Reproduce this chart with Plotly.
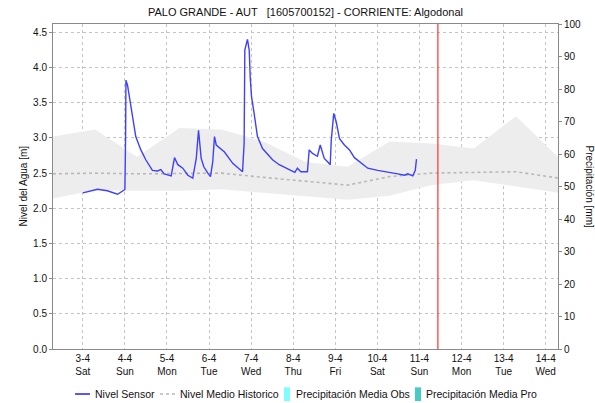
import plotly.graph_objects as go

FONT = "Liberation Sans, Arial, sans-serif"

# ---- data ----
sensor_time = [
    "2021-04-03 00:00", "2021-04-03 08:24", "2021-04-03 14:00", "2021-04-03 19:48", "2021-04-03 23:36",
    "2021-04-04 00:00", "2021-04-04 00:24", "2021-04-04 00:36", "2021-04-04 01:30", "2021-04-04 03:24",
    "2021-04-04 06:12", "2021-04-04 09:06", "2021-04-04 11:54", "2021-04-04 15:42", "2021-04-04 18:36",
    "2021-04-04 20:30", "2021-04-04 22:24", "2021-04-05 02:24", "2021-04-05 04:18", "2021-04-05 06:12",
    "2021-04-05 09:00", "2021-04-05 11:54", "2021-04-05 14:42", "2021-04-05 16:42", "2021-04-05 18:00",
    "2021-04-05 19:30", "2021-04-05 21:00", "2021-04-05 23:18", "2021-04-06 00:48", "2021-04-06 02:06",
    "2021-04-06 03:06", "2021-04-06 04:06", "2021-04-06 08:48", "2021-04-06 13:30", "2021-04-06 19:06",
    "2021-04-06 20:00", "2021-04-06 20:24", "2021-04-06 21:54", "2021-04-06 22:54", "2021-04-06 23:30",
    "2021-04-07 00:12", "2021-04-07 01:42", "2021-04-07 03:36", "2021-04-07 06:30", "2021-04-07 09:18",
    "2021-04-07 12:12", "2021-04-07 16:00", "2021-04-07 19:48", "2021-04-07 23:36", "2021-04-08 00:54",
    "2021-04-08 02:24", "2021-04-08 04:18", "2021-04-08 08:06", "2021-04-08 09:06", "2021-04-08 11:00",
    "2021-04-08 13:48", "2021-04-08 15:24", "2021-04-08 17:42", "2021-04-08 20:00", "2021-04-08 21:06",
    "2021-04-08 21:42", "2021-04-08 23:06", "2021-04-09 00:30", "2021-04-09 02:24", "2021-04-09 05:12",
    "2021-04-09 08:06", "2021-04-09 10:54", "2021-04-09 14:48", "2021-04-09 18:30", "2021-04-10 00:12",
    "2021-04-10 06:00", "2021-04-10 11:36", "2021-04-10 15:30", "2021-04-10 17:18", "2021-04-10 20:12",
    "2021-04-10 21:36", "2021-04-10 22:18",
]
sensor_level = [
    2.22, 2.27, 2.25, 2.20, 2.26,
    2.27, 3.00, 3.82, 3.75, 3.44,
    3.02, 2.83, 2.69, 2.54, 2.53,
    2.55, 2.49, 2.46, 2.72, 2.62,
    2.57, 2.47, 2.43, 2.71, 3.11,
    2.71, 2.59, 2.50, 2.45, 2.66,
    3.02, 2.90, 2.80, 2.64, 2.52,
    2.92, 4.25, 4.40, 4.25, 3.85,
    3.59, 3.35, 3.02, 2.85, 2.77,
    2.69, 2.62, 2.57, 2.53, 2.51,
    2.57, 2.52, 2.52, 2.83, 2.78,
    2.74, 2.90, 2.71, 2.65, 2.62,
    2.97, 3.35, 3.23, 2.99, 2.90,
    2.83, 2.72, 2.64, 2.57, 2.54,
    2.52, 2.49, 2.47, 2.49, 2.46,
    2.54, 2.70,
]

hist_time = [
    "2021-04-02 07:00", "2021-04-03 07:00", "2021-04-04 07:00", "2021-04-05 07:00",
    "2021-04-06 07:00", "2021-04-07 07:00", "2021-04-08 07:00", "2021-04-09 07:00",
    "2021-04-10 07:00", "2021-04-11 07:00", "2021-04-12 07:00", "2021-04-13 07:00",
    "2021-04-14 07:00",
]
hist_upper = [3.02, 3.12, 2.73, 3.14, 3.12, 2.95, 2.66, 2.59, 2.95, 2.92, 2.85, 3.31, 2.73]
hist_lower = [2.14, 2.26, 2.25, 2.25, 2.27, 2.22, 2.17, 2.12, 2.18, 2.33, 2.40, 2.31, 2.22]
hist_median = [2.49, 2.50, 2.49, 2.50, 2.50, 2.44, 2.38, 2.33, 2.45, 2.50, 2.51, 2.52, 2.43]

precip_obs_time = []
precip_obs = []
precip_pro_time = []
precip_pro = []

now_time = "2021-04-11 10:30"

tick_dates = ["2021-04-03", "2021-04-04", "2021-04-05", "2021-04-06", "2021-04-07", "2021-04-08",
              "2021-04-09", "2021-04-10", "2021-04-11", "2021-04-12", "2021-04-13", "2021-04-14"]
tick_day = ["3-4", "4-4", "5-4", "6-4", "7-4", "8-4", "9-4", "10-4", "11-4", "12-4", "13-4", "14-4"]
tick_wd = ["Sat", "Sun", "Mon", "Tue", "Wed", "Thu", "Fri", "Sat", "Sun", "Mon", "Tue", "Wed"]

x_range = ["2021-04-02 07:00", "2021-04-14 07:00"]

title_text = "PALO GRANDE - AUT   [1605700152] - CORRIENTE: Algodonal"
y_title = "Nivel del Agua [m]"
y2_title = "Precipitación [mm]"
legend_names = ["Nivel Sensor", "Nivel Medio Historico", "Precipitación Media Obs", "Precipitación Media Pro"]

# ---- styles ----
c_sensor = "#3f3fff"
c_median = "#b8b8b8"
c_band = "#ededed"
c_obs = "#80fcff"
c_pro = "#48cbc4"
c_grid = "#c4c4c4"
c_axis = "#8a8a8a"

W, H = 595, 403

fig = go.Figure()
fig.add_trace(go.Scatter(x=hist_time, y=hist_lower, mode="lines", line=dict(width=0, color=c_band),
                         showlegend=False, hoverinfo="skip"))
fig.add_trace(go.Scatter(x=hist_time, y=hist_upper, mode="lines", line=dict(width=0, color=c_band),
                         fill="tonexty", fillcolor=c_band, showlegend=False, hoverinfo="skip"))
fig.add_trace(go.Scatter(x=hist_time, y=hist_median, mode="lines", name=legend_names[1],
                         line=dict(color=c_median, width=1.6, dash="3px,3px"), showlegend=False))
fig.add_trace(go.Bar(x=precip_obs_time, y=precip_obs, name=legend_names[2], marker_color=c_obs,
                     yaxis="y2", showlegend=False))
fig.add_trace(go.Bar(x=precip_pro_time, y=precip_pro, name=legend_names[3], marker_color=c_pro,
                     yaxis="y2", showlegend=False))
fig.add_trace(go.Scatter(x=sensor_time, y=sensor_level, mode="lines", name=legend_names[0],
                         line=dict(color=c_sensor, width=1.4), showlegend=False))

fig.add_shape(type="line", xref="x", yref="paper", x0=now_time, x1=now_time, y0=0, y1=1,
              line=dict(color="#ff3030", width=1.2))

# custom legend
leg_y = -0.1385
LEG_FONT = dict(family=FONT, size=10.5, color="#111")
fig.add_shape(type="line", xref="paper", yref="paper", x0=0.0436, x1=0.0733, y0=leg_y, y1=leg_y,
              line=dict(color="#2020ff", width=1.5))
fig.add_shape(type="line", xref="paper", yref="paper", x0=0.2119, x1=0.2416, y0=leg_y, y1=leg_y,
              line=dict(color=c_median, width=1.6, dash="3px,3px"))
fig.add_shape(type="rect", xref="paper", yref="paper", x0=0.4574, x1=0.4693, y0=-0.16, y1=-0.118,
              line=dict(width=0), fillcolor=c_obs)
fig.add_shape(type="rect", xref="paper", yref="paper", x0=0.7168, x1=0.7287, y0=-0.16, y1=-0.118,
              line=dict(width=0), fillcolor=c_pro)
for xp, name in zip([0.0792, 0.2475, 0.4772, 0.7347], legend_names):
    fig.add_annotation(text=name, xref="paper", yref="paper", x=xp, y=leg_y, xanchor="left",
                       yanchor="middle", showarrow=False, font=LEG_FONT)

fig.add_annotation(text=y_title, xref="paper", yref="paper", x=-0.0594, y=0.5, textangle=-90,
                   showarrow=False, xanchor="center", yanchor="middle",
                   font=dict(family=FONT, size=10, color="#111"))
fig.add_annotation(text=y2_title, xref="paper", yref="paper", x=1.0614, y=0.5, textangle=90,
                   showarrow=False, xanchor="center", yanchor="middle",
                   font=dict(family=FONT, size=10, color="#111"))

fig.update_layout(
    width=W, height=H,
    margin=dict(l=53, r=37, t=24, b=54, pad=0),
    paper_bgcolor="white", plot_bgcolor="white",
    font=dict(family=FONT, size=10, color="#111"),
    title=dict(text=title_text, x=0.5, xref="paper", y=1 - 12 / H, yref="container",
               xanchor="center", yanchor="middle", font=dict(family=FONT, size=11, color="#111")),
    showlegend=False,
    barmode="overlay",
    xaxis=dict(type="date", range=x_range, tickvals=tick_dates,
               ticktext=[f"{d}<br>{w}" for d, w in zip(tick_day, tick_wd)],
               showgrid=True, gridcolor=c_grid, griddash="dot", gridwidth=1,
               showline=True, linecolor=c_axis, linewidth=1, mirror=True,
               ticks="", zeroline=False, tickfont=dict(size=10)),
    yaxis=dict(range=[0, 4.62], dtick=0.5, tick0=0, tickformat=".1f",
               showgrid=True, gridcolor=c_grid, griddash="dot", gridwidth=1,
               showline=True, linecolor=c_axis, linewidth=1, mirror=True,
               ticks="outside", ticklen=3, tickcolor=c_axis, zeroline=False, tickfont=dict(size=10)),
    yaxis2=dict(range=[0, 100], dtick=10, tick0=0, overlaying="y", side="right",
                showgrid=False, showline=True, linecolor=c_axis, linewidth=1,
                ticks="outside", ticklen=3, tickcolor=c_axis, zeroline=False, tickfont=dict(size=10)),
)

# remove the default 8px body margin so the figure fills the 595x403 window exactly
fig.write_html("out.html", config={"displayModeBar": False},
               post_script="document.body.style.margin='0';document.body.style.overflow='hidden';")
